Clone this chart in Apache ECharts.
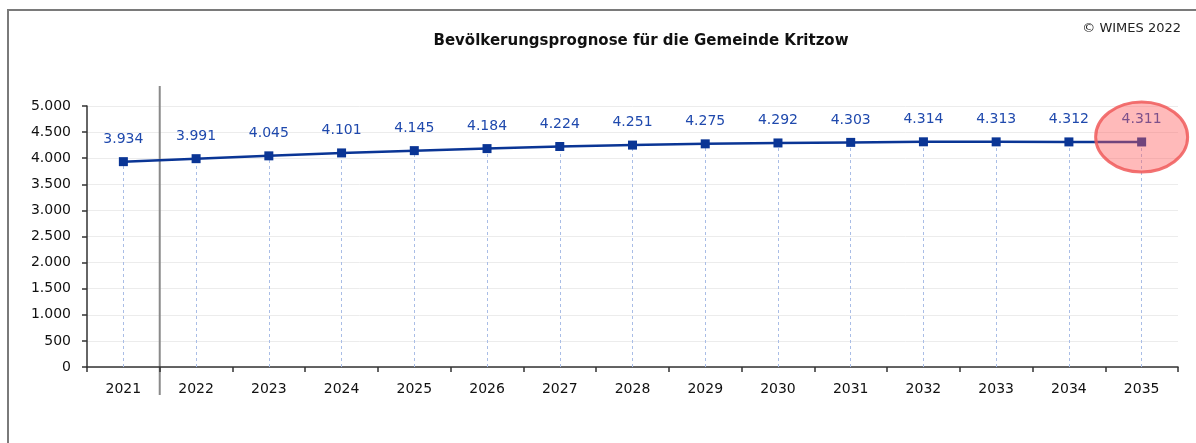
<!DOCTYPE html>
<html>
<head>
<meta charset="utf-8">
<script src="https://cdn.jsdelivr.net/npm/echarts@6/dist/echarts.min.js"></script>
<style>
  html, body { margin: 0; padding: 0; background: #fff; }
  #chart { width: 1196px; height: 443px; }
</style>
</head>
<body>
<div id="chart"></div>
<script>
// Bevölkerungsprognose Kritzow, Werte
var years = ['2021', '2022', '2023', '2024', '2025', '2026', '2027', '2028',
             '2029', '2030', '2031', '2032', '2033', '2034', '2035'];
var population = [3934, 3991, 4045, 4101, 4145, 4184, 4224, 4251,
                  4275, 4292, 4303, 4314, 4313, 4312, 4311];
var yTicks = [0, 500, 1000, 1500, 2000, 2500, 3000, 3500, 4000, 4500, 5000];

var FONT = 'DejaVu Sans';

function fmt(v) {   // 4311 -> "4.311"
  return String(v).replace(/\B(?=(\d{3})+(?!\d))/g, '.');
}

// gestrichelte Linien von jedem Punkt bis zur Achse
var dropLines = [];
for (var i = 0; i < years.length; i++) {
  dropLines.push([
    {coord: [years[i], 0]},
    {coord: [years[i], population[i]]}
  ]);
}

var chart = echarts.init(document.getElementById('chart'));

var option = {
  animation: false,
  backgroundColor: '#fff',
  grid: {left: 87, right: 18, top: 106, bottom: 76},
  xAxis: {
    type: 'category',
    data: years,
    boundaryGap: true,
    axisLine: {lineStyle: {color: '#333', width: 1.5}},
    axisTick: {show: true, length: 5, lineStyle: {color: '#333', width: 1.5}},
    axisLabel: {color: '#111', fontFamily: FONT, fontSize: 14, margin: 15},
    splitLine: {show: false}
  },
  yAxis: {
    type: 'value',
    min: yTicks[0],
    max: yTicks[yTicks.length - 1],
    interval: 500,
    axisLine: {show: true, lineStyle: {color: '#333', width: 1.5}},
    axisTick: {show: true, length: 5, lineStyle: {color: '#333', width: 1.5}},
    axisLabel: {color: '#111', fontFamily: FONT, fontSize: 14, margin: 16,
                formatter: function (v) { return fmt(v); }},
    splitLine: {lineStyle: {color: '#ececec', width: 1}}
  },
  series: [{
    type: 'line',
    data: population,
    symbol: 'rect',
    symbolSize: 9,
    lineStyle: {color: '#0a3595', width: 2.5},
    itemStyle: {color: '#0a3595'},
    label: {
      show: true,
      position: 'top',
      distance: 11,
      color: '#1f49ad',
      fontFamily: FONT,
      fontSize: 14,
      formatter: function (p) { return fmt(p.value); }
    },
    markLine: {
      silent: true,
      symbol: 'none',
      label: {show: false},
      lineStyle: {color: '#a9bde6', type: [3, 3], width: 1},
      data: dropLines,
      z: 1
    },
    z: 3
  }]
};
chart.setOption(option);

// Zusatzgrafik: Rahmen, Titel, Trennlinie, Markierung letzter Wert
var pFirst = chart.convertToPixel({seriesIndex: 0}, [0, population[0]]);
var pSecond = chart.convertToPixel({seriesIndex: 0}, [1, population[1]]);
var last = population.length - 1;
var pLast = chart.convertToPixel({seriesIndex: 0}, [last, population[last]]);
var sepX = (pFirst[0] + pSecond[0]) / 2;

chart.setOption({
  graphic: [
    {type: 'rect', shape: {x: 8, y: 10, width: 1300, height: 600}, silent: true,
     style: {fill: 'none', stroke: '#7a7a7a', lineWidth: 2}},
    {type: 'text', x: 641, y: 41,
     style: {text: 'Bevölkerungsprognose für die Gemeinde Kritzow',
             fill: '#111', font: 'bold 15px "DejaVu Sans"',
             textAlign: 'center', textVerticalAlign: 'middle'}},
    {type: 'text', x: 1181, y: 29,
     style: {text: '© WIMES 2022', fill: '#222', font: '13px "DejaVu Sans"',
             textAlign: 'right', textVerticalAlign: 'middle'}},
    {type: 'line', shape: {x1: sepX, y1: 86, x2: sepX, y2: 395}, silent: true,
     style: {stroke: '#8a8a8a', lineWidth: 2}},
    {type: 'ellipse', shape: {cx: pLast[0], cy: pLast[1] - 5, rx: 46, ry: 35},
     silent: true, z: 100,
     style: {fill: 'rgba(255, 90, 90, 0.42)', stroke: 'rgba(240, 90, 90, 0.85)', lineWidth: 3}}
  ]
});
</script>
</body>
</html>
